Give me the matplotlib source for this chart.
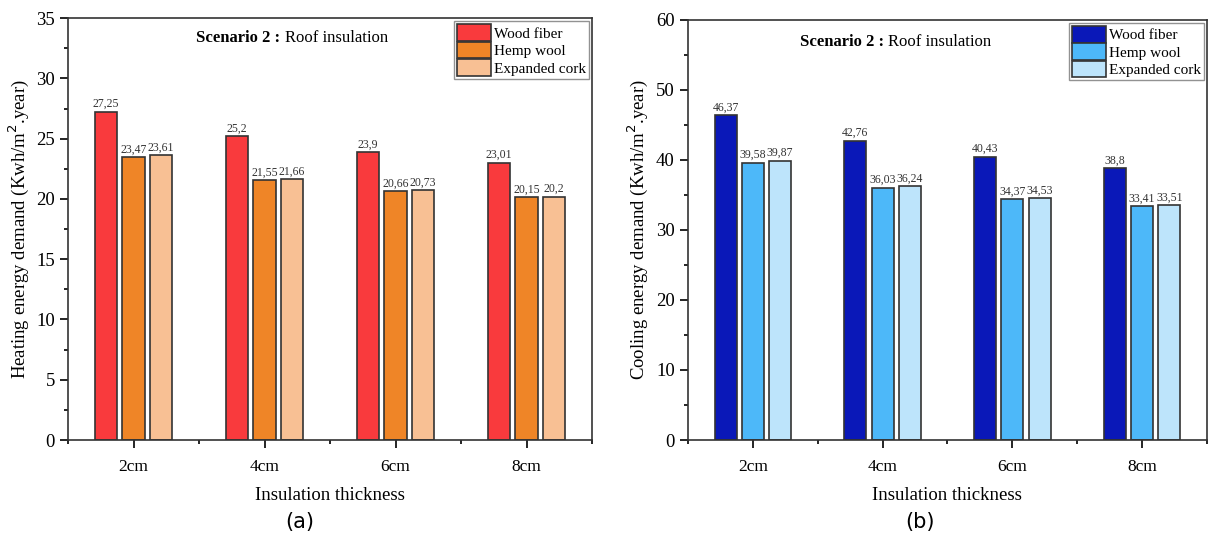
import matplotlib.pyplot as plt
import numpy as np
from matplotlib.ticker import MultipleLocator

plt.rcParams['font.family'] = ['Liberation Serif', 'DejaVu Serif']

thickness = ['2cm', '4cm', '6cm', '8cm']
materials = ['Wood fiber', 'Hemp wool', 'Expanded cork']

heat_wood = [27.25, 25.2, 23.9, 23.01]
heat_hemp = [23.47, 21.55, 20.66, 20.15]
heat_cork = [23.61, 21.66, 20.73, 20.2]

cool_wood = [46.37, 42.76, 40.43, 38.8]
cool_hemp = [39.58, 36.03, 34.37, 33.41]
cool_cork = [39.87, 36.24, 34.53, 33.51]

heat_colors = ['#f93a3d', '#ef8527', '#f8c094']
cool_colors = ['#0a18b8', '#4db8f9', '#bde4fb']


def panel(ax, series, colors, ymax, major, ylabel, title_x, title_y):
    x = np.arange(len(thickness))
    offs = [-0.21, 0, 0.21]
    for vals, c, o, name in zip(series, colors, offs, materials):
        bars = ax.bar(x + o, vals, 0.17, color=c, edgecolor='#333333',
                      linewidth=1.2, label=name)
        for b, v in zip(bars, vals):
            ax.text(b.get_x() + b.get_width() / 2, v + ymax * 0.004,
                    str(v).replace('.', ','), ha='center', va='bottom',
                    fontsize=8.5, color='#333333')
    ax.set_xlim(-0.5, 3.5)
    ax.set_ylim(0, ymax)
    ax.set_xticks(x)
    ax.set_xticklabels(thickness, fontsize=12.5)
    ax.xaxis.set_minor_locator(MultipleLocator(0.5))
    ax.yaxis.set_major_locator(MultipleLocator(major))
    ax.yaxis.set_minor_locator(MultipleLocator(major / 2))
    ax.tick_params(axis='y', labelsize=13.5, length=6, width=1.2)
    ax.tick_params(axis='x', length=6, width=1.2, pad=8)
    ax.tick_params(which='minor', length=3, width=1.2)
    for s in ax.spines.values():
        s.set_linewidth(1.2)
        s.set_color('#333333')
    ax.set_xlabel('Insulation thickness', fontsize=13.5, labelpad=8)
    ax.set_ylabel(ylabel, fontsize=13.5)

    # title: bold part then regular part
    t = ax.text(title_x, title_y, 'Scenario 2 :', transform=ax.transAxes,
                fontsize=12, fontweight='bold', va='top', ha='left')
    ax.figure.canvas.draw()
    bb = t.get_window_extent().transformed(ax.transAxes.inverted())
    ax.text(bb.x1 + 0.008, title_y, 'Roof insulation', transform=ax.transAxes,
            fontsize=12, va='top', ha='left')

    leg = ax.legend(loc='upper right', fontsize=11, frameon=True, fancybox=False,
                    borderpad=0.2, handlelength=2.2, handleheight=1.3,
                    handletextpad=0.2, labelspacing=0.05, borderaxespad=0.2)
    leg.get_frame().set_edgecolor('#777777')


fig = plt.figure(figsize=(12.08, 5.34), dpi=100)
ax1 = fig.add_axes([0.0563, 0.176, 0.4338, 0.79])
ax2 = fig.add_axes([0.5695, 0.176, 0.4296, 0.787])

panel(ax1, [heat_wood, heat_hemp, heat_cork], heat_colors, 35, 5,
      'Heating energy demand (Kwh/m$^2$.year)', 0.245, 0.972)
panel(ax2, [cool_wood, cool_hemp, cool_cork], cool_colors, 60, 10,
      'Cooling energy demand (Kwh/m$^2$.year)', 0.215, 0.965)

fig.text(0.248, 0.012, '(a)', fontsize=15, family='DejaVu Sans', ha='center')
fig.text(0.762, 0.012, '(b)', fontsize=15, family='DejaVu Sans', ha='center')

fig.savefig('out.png', dpi=100)
